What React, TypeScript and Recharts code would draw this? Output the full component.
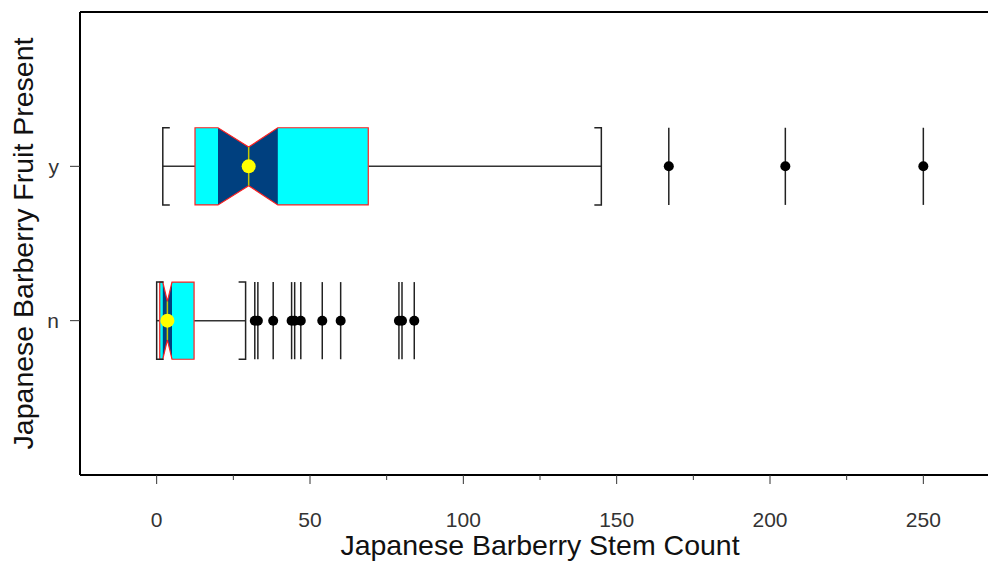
import {
  ComposedChart,
  XAxis,
  YAxis,
  Scatter,
  ReferenceArea,
  ReferenceLine,
} from 'recharts';

// groups on the y axis (n = 1, y = 2)
const categories = ['n', 'y'];
const positions = [1, 2];

// box statistics per group
const whiskerLow = [0, 2];
const q1 = [1, 12.5];
const notchLow = [2, 20];
const medians = [3.5, 30];
const notchHigh = [5, 39.5];
const q3 = [12.2, 69];
const whiskerHigh = [29, 145];

const outliersN = [32, 33, 38, 44, 45, 47, 54, 60, 79, 80, 84];
const outliersY = [167, 205, 250];

const xTicks = [0, 25, 50, 75, 100, 125, 150, 175, 200, 225, 250];
const yTicks = [1, 2];

const BOX_HALF = 0.25;

const outlierPoints = [
  ...outliersN.map((v) => ({ x: v, y: positions[0] })),
  ...outliersY.map((v) => ({ x: v, y: positions[1] })),
];

const BoxShape = (props: any) => {
  const { x, y, width, height, i } = props;
  const lo = whiskerLow[i];
  const hi = whiskerHigh[i];
  const px = (v: number) => x + (width * (v - lo)) / (hi - lo);
  const top = y;
  const bot = y + height;
  const mid = y + height / 2;
  const inset = height * 0.25;
  const a = px(q1[i]);
  const nl = px(notchLow[i]);
  const md = px(medians[i]);
  const nh = px(notchHigh[i]);
  const b = px(q3[i]);
  const wl = px(lo);
  const wh = px(hi);

  const outline = [
    [a, top], [nl, top], [md, top + inset], [nh, top], [b, top],
    [b, bot], [nh, bot], [md, bot - inset], [nl, bot], [a, bot],
  ].map((p) => p.join(',')).join(' ');
  const notch = [
    [nl, top], [md, top + inset], [nh, top],
    [nh, bot], [md, bot - inset], [nl, bot],
  ].map((p) => p.join(',')).join(' ');

  return (
    <g>
      <line x1={wl} y1={mid} x2={a} y2={mid} stroke="#333" strokeWidth={1.5} />
      <line x1={b} y1={mid} x2={wh} y2={mid} stroke="#333" strokeWidth={1.5} />
      <polygon points={outline} fill="#00ffff" />
      <polygon points={notch} fill="#00407f" />
      <polygon points={outline} fill="none" stroke="#ff2020" strokeWidth={1.2} />
      <line x1={md} y1={top + inset} x2={md} y2={bot - inset} stroke="#c8c800" strokeWidth={1.5} />
      <circle cx={md} cy={mid} r={7} fill="#ffff00" />
      <path d={`M${wl + 7},${top} H${wl} V${bot} H${wl + 7}`} fill="none" stroke="#222" strokeWidth={1.5} />
      <path d={`M${wh - 7},${top} H${wh} V${bot} H${wh - 7}`} fill="none" stroke="#222" strokeWidth={1.5} />
    </g>
  );
};

const XTick = (props: any) => {
  const { x, y, payload } = props;
  const major = payload.value % 50 === 0;
  return (
    <g>
      <line x1={x} y1={y} x2={x} y2={y + (major ? 9 : 5)} stroke="#333" strokeWidth={1} />
      {major && (
        <text x={x} y={y + 52} textAnchor="middle" fontSize={21} fill="#333">
          {payload.value}
        </text>
      )}
    </g>
  );
};

export default function App() {
  return (
    <div
      style={{
        position: 'absolute',
        left: 0,
        top: 0,
        width: 988,
        height: 562,
        overflow: 'hidden',
        background: '#fff',
        fontFamily: '"Liberation Sans", Arial, sans-serif',
      }}
    >
      <ComposedChart width={1000} height={562} margin={{ top: 12, right: 0, bottom: 0, left: 0 }}>
        <XAxis
          type="number"
          dataKey="x"
          domain={[-25, 275]}
          ticks={xTicks}
          interval={0}
          height={87}
          tickSize={0}
          tickMargin={0}
          tickLine={false}
          tick={<XTick />}
          axisLine={{ stroke: '#000', strokeWidth: 2 }}
          label={{
            value: 'Japanese Barberry Stem Count',
            position: 'insideBottom',
            offset: 7,
            fontSize: 28.5,
            fill: '#111',
          }}
        />
        <YAxis
          type="number"
          dataKey="y"
          domain={[0, 3]}
          ticks={yTicks}
          interval={0}
          width={80}
          tickSize={10}
          tickMargin={11}
          tickFormatter={(v: number) => categories[positions.indexOf(v)]}
          tick={{ fontSize: 21, fill: '#333' }}
          tickLine={{ stroke: '#333' }}
          axisLine={{ stroke: '#000', strokeWidth: 2 }}
          label={{
            value: 'Japanese Barberry Fruit Present',
            angle: -90,
            position: 'insideLeft',
            offset: 23,
            fontSize: 28.5,
            fill: '#111',
            style: { textAnchor: 'middle' },
          }}
        />
        <ReferenceLine y={3} stroke="#000" strokeWidth={2} />
        {positions.map((pos, i) => (
          <ReferenceArea
            key={categories[i]}
            x1={whiskerLow[i]}
            x2={whiskerHigh[i]}
            y1={pos - BOX_HALF}
            y2={pos + BOX_HALF}
            shape={(p: any) => <BoxShape {...p} i={i} />}
          />
        ))}
        {outlierPoints.map((o, k) => (
          <ReferenceLine
            key={k}
            segment={[
              { x: o.x, y: o.y - BOX_HALF },
              { x: o.x, y: o.y + BOX_HALF },
            ]}
            stroke="#222"
            strokeWidth={1.5}
          />
        ))}
        <Scatter
          data={outlierPoints}
          isAnimationActive={false}
          shape={(p: any) => <circle cx={p.cx} cy={p.cy} r={5} fill="#000" />}
        />
      </ComposedChart>
    </div>
  );
}
